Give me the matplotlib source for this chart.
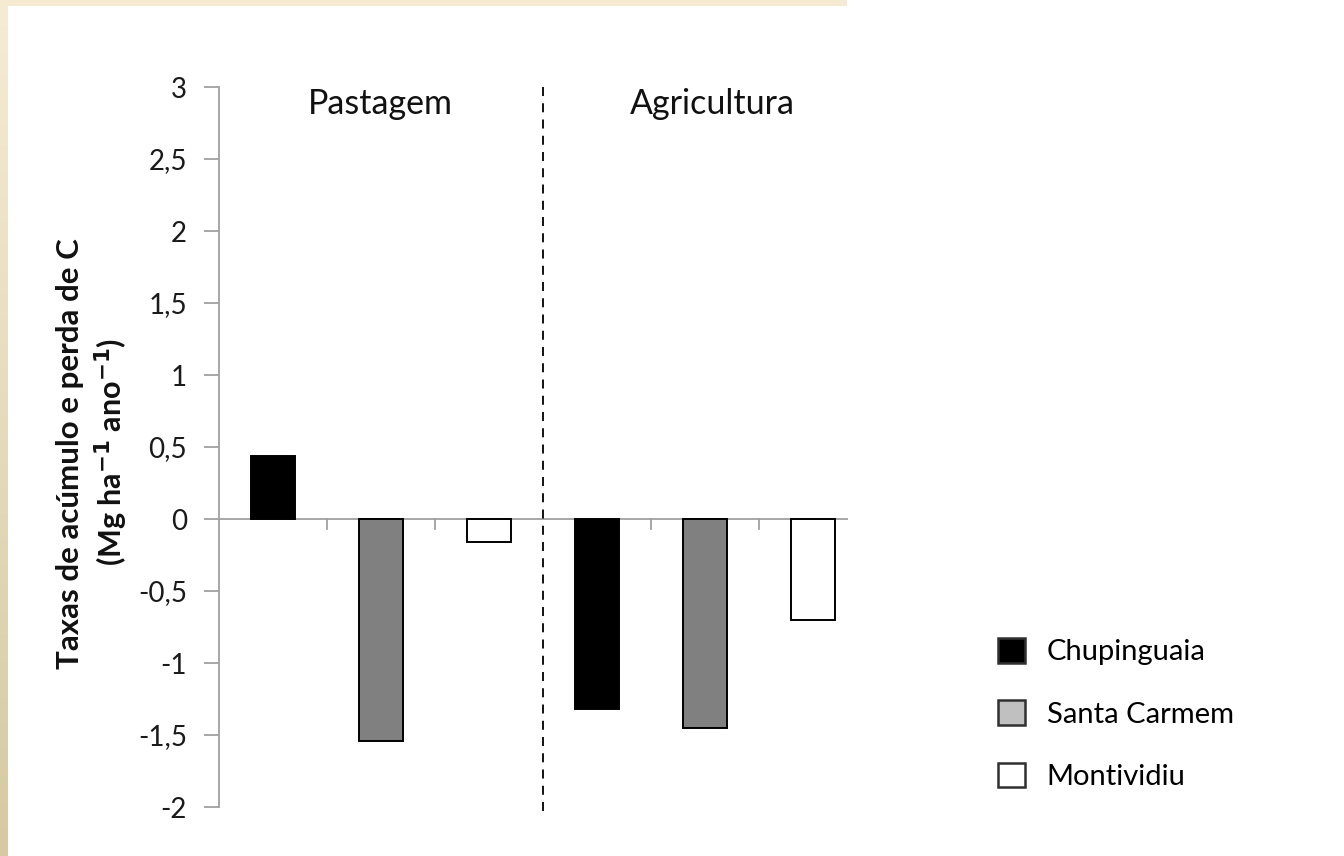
import matplotlib
matplotlib.use("Agg")
import matplotlib.pyplot as plt
import numpy as np
from matplotlib.patches import Patch, Rectangle
from matplotlib.colors import LinearSegmentedColormap

# Data
groups = ["Pastagem", "Agricultura"]
sites = ["Chupinguaia", "Santa Carmem", "Montividiu"]
pastagem = [0.435, -1.54, -0.16]
agricultura = [-1.32, -1.45, -0.70]
yticks = [3, 2.5, 2, 1.5, 1, 0.5, 0, -0.5, -1, -1.5, -2]
ytick_labels = ["3", "2,5", "2", "1,5", "1", "0,5", "0", "-0,5", "-1", "-1,5", "-2"]

bar_colors = ["#000000", "#808080", "#ffffff"]
legend_colors = ["#000000", "#c0c0c0", "#ffffff"]

plt.rcParams["font.family"] = ["Lato", "DejaVu Sans"]

W, H = 1344, 856
fig = plt.figure(figsize=(W / 100, H / 100), dpi=100)

# slide background border strips
bg = fig.add_axes([0, 0, 1, 1], zorder=-10)
bg.set_xlim(0, W)
bg.set_ylim(H, 0)
bg.axis("off")
grad = np.linspace(0, 1, 256).reshape(-1, 1)
cmap = LinearSegmentedColormap.from_list("beige", ["#f6ecd4", "#d6c9a3"])
bg.imshow(grad, cmap=cmap, extent=[0, 8, H, 0], aspect="auto")
bg.add_patch(Rectangle((0, 0), 847, 6, color="#f6ebd2", lw=0))

ax = fig.add_axes([219 / W, 1 - 807 / H, (848 - 219) / W, (807 - 87) / H])

values = pastagem + agricultura
colors = bar_colors * 2
x = np.arange(len(values))
ax.bar(x, values, width=0.405, color=colors, edgecolor="#000000", linewidth=1.4, zorder=3)

ax.set_xlim(-0.5, 5.324)
ax.set_ylim(-2, 3)
ax.set_yticks(yticks)
ax.set_yticklabels(ytick_labels, fontsize=20, color="#1a1a1a")
ax.tick_params(axis="y", direction="out", length=11, width=1.3, color="#a0a0a0", pad=12)

for s in ["top", "right", "bottom"]:
    ax.spines[s].set_visible(False)
ax.spines["left"].set_color("#a0a0a0")
ax.spines["left"].set_linewidth(1.3)

# horizontal axis at zero with category tick marks
ax.axhline(0, color="#a0a0a0", lw=1.3, zorder=2)
ax.set_xticks([])
for xb in [0.5, 1.5, 3.5, 4.5]:
    ax.plot([xb, xb], [0, -0.07], color="#a0a0a0", lw=1.3, zorder=2, clip_on=False)

# group separator
ax.plot([2.5, 2.5], [3, -2.05], color="#000000", lw=1.3, ls=(0, (5, 4)), clip_on=False, zorder=4)

# group headers
ax.text(0.99, 2.88, groups[0], ha="center", va="center", fontsize=24.5, color="#111111")
ax.text(4.07, 2.88, groups[1], ha="center", va="center", fontsize=24.5, color="#111111")

fig.text(70 / W, 1 - 454 / H, "Taxas de acúmulo e perda de C", rotation=90,
         ha="center", va="center", fontsize=22.5, fontweight="bold", color="#111111")
fig.text(111 / W, 1 - 452 / H, "(Mg ha$^{\\mathbf{-1}}$ ano$^{\\mathbf{-1}}$)", rotation=90,
         ha="center", va="center", fontsize=22, fontweight="bold", color="#111111")

handles = [Patch(facecolor=c, edgecolor="#303030", linewidth=1.8) for c in legend_colors]
fig.legend(handles, sites, loc="center left", bbox_to_anchor=(998 / W, 1 - 714 / H),
           frameon=False, fontsize=21, handlelength=0.92, handleheight=0.92,
           handletextpad=0.75, labelspacing=1.2, borderaxespad=0, borderpad=0)

fig.savefig("out.png", dpi=100)
